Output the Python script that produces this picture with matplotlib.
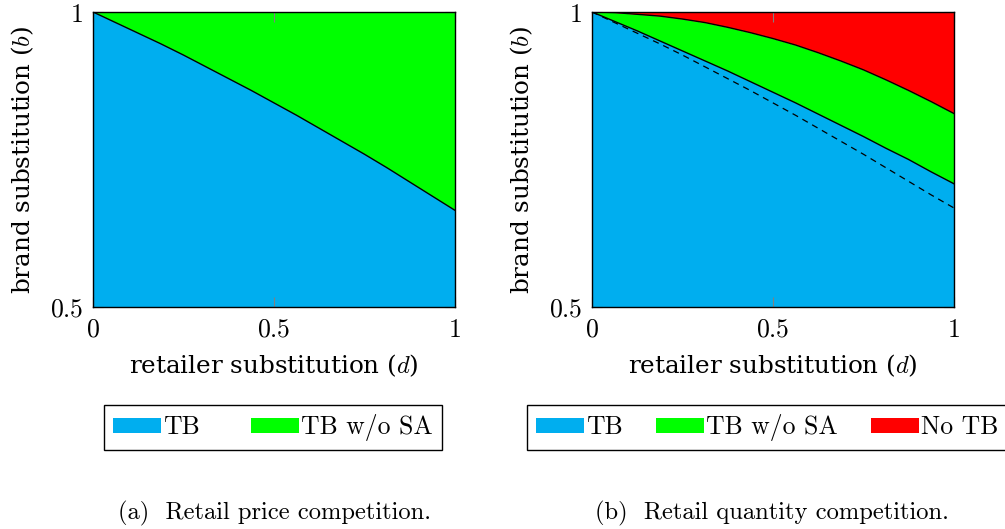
import matplotlib
matplotlib.use('Agg')
import matplotlib.pyplot as plt
from matplotlib.patches import Patch

plt.rcParams['mathtext.fontset'] = 'cm'

# retailer substitution d (x axis)
d_vals = [0, 0.0625, 0.125, 0.1875, 0.25, 0.3125, 0.375, 0.4375, 0.5,
          0.5625, 0.625, 0.6875, 0.75, 0.8125, 0.875, 0.9375, 1]

# (a) price competition: TB boundary
price_tb = [1.0, 0.982, 0.964, 0.946, 0.927, 0.907, 0.887, 0.867, 0.846,
            0.825, 0.803, 0.781, 0.759, 0.736, 0.712, 0.688, 0.664]

# (b) quantity competition
qty_tb = [1.0, 0.984, 0.968, 0.951, 0.934, 0.917, 0.900, 0.882, 0.864,
          0.846, 0.827, 0.808, 0.789, 0.769, 0.750, 0.729, 0.709]
qty_notb = [1.0, 0.999, 0.996, 0.993, 0.988, 0.982, 0.974, 0.965, 0.955,
            0.944, 0.931, 0.917, 0.902, 0.885, 0.867, 0.848, 0.828]
qty_dashed = [1.0, 0.982, 0.964, 0.946, 0.927, 0.907, 0.887, 0.867, 0.846,
              0.825, 0.803, 0.781, 0.759, 0.736, 0.713, 0.690, 0.668]

col_tb = '#00AEEF'
col_sa = '#00FF00'
col_no = '#FF0000'

labels_a = ['TB', 'TB w/o SA']
labels_b = ['TB', 'TB w/o SA', 'No TB']
captions = ['(a)  Retail price competition.', '(b)  Retail quantity competition.']

fig = plt.figure(figsize=(10.05, 5.29), dpi=100)
ax1 = fig.add_axes([0.0925, 0.4197, 0.360, 0.5577])
ax2 = fig.add_axes([0.589, 0.4197, 0.360, 0.5577])

# left panel
ax1.fill_between(d_vals, 0.5, price_tb, color=col_tb, lw=0)
ax1.fill_between(d_vals, price_tb, 1, color=col_sa, lw=0)
ax1.plot(d_vals, price_tb, color='black', lw=1)

# right panel
ax2.fill_between(d_vals, 0.5, qty_tb, color=col_tb, lw=0)
ax2.fill_between(d_vals, qty_tb, qty_notb, color=col_sa, lw=0)
ax2.fill_between(d_vals, qty_notb, 1, color=col_no, lw=0)
ax2.plot(d_vals, qty_tb, color='black', lw=1)
ax2.plot(d_vals, qty_notb, color='black', lw=1)
ax2.plot(d_vals, qty_dashed, color='black', lw=0.9, dashes=(5, 4))

for ax in [ax1, ax2]:
    ax.set_xlim(0, 1)
    ax.set_ylim(0.5, 1)
    ax.set_xticks([0, 0.5, 1])
    ax.set_xticklabels([r'$0$', r'$0.5$', r'$1$'])
    ax.set_yticks([0.5, 1])
    ax.set_yticklabels([r'$0.5$', r'$1$'])
    ax.tick_params(direction='in', length=7, width=0.8, color='gray',
                   labelsize=18.5, top=True, right=True, pad=7)
    for sp in ax.spines.values():
        sp.set_linewidth(1)
        sp.set_color('black')
    ax.set_xlabel(r'retailer substitution ($d$)', family='DejaVu Serif',
                  fontsize=17.7, labelpad=7)
    ax.set_ylabel(r'brand substitution ($b$)', family='DejaVu Serif',
                  fontsize=17.7, labelpad=10)

h_a = [Patch(facecolor=col_tb), Patch(facecolor=col_sa)]
h_b = [Patch(facecolor=col_tb), Patch(facecolor=col_sa), Patch(facecolor=col_no)]

leg_kw = dict(loc='center left', fancybox=False, edgecolor='black', framealpha=1,
              handlelength=1.85, handleheight=0.55, handletextpad=0.1,
              borderpad=0.35, borderaxespad=0, prop={'family': 'cmr10', 'size': 18.5})
lg1 = fig.legend(h_a, labels_a, ncol=2, bbox_to_anchor=(104 / 1005, 0.191),
                 columnspacing=2.0, **leg_kw)
lg2 = fig.legend(h_b, labels_b, ncol=3, bbox_to_anchor=(527 / 1005, 0.191),
                 columnspacing=1.3, **leg_kw)
for lg in [lg1, lg2]:
    lg.get_frame().set_linewidth(1)

fig.text(0.2727, 0.030, captions[0], ha='center', va='center',
         family='cmr10', fontsize=17.7)
fig.text(0.768, 0.030, captions[1], ha='center', va='center',
         family='cmr10', fontsize=17.7)

fig.savefig('out.png', dpi=100)
